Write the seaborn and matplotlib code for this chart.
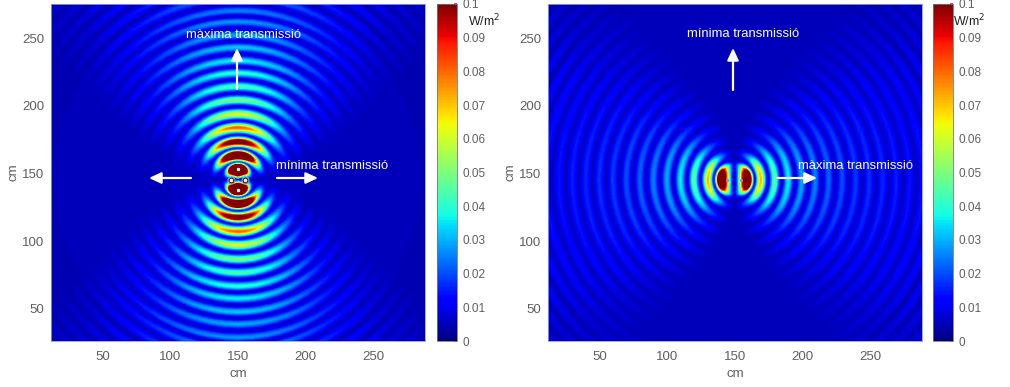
import numpy as np
import matplotlib
matplotlib.use("Agg")
import matplotlib.pyplot as plt
from matplotlib.cm import ScalarMappable
from matplotlib.colors import Normalize
import seaborn as sns

# Values: ring radii (cm from the centre), crest levels on the
# strong axis (W/m2), trough radii/levels, and brightness against angle from that axis.
left_crest_r = [8, 18, 28, 38.5, 48.5, 59, 69, 79, 88, 98, 107, 117, 125, 135, 145, 155, 165, 175, 185, 195]
left_crest_v = [.3, .19, .12, .082, .062, .05, .044, .04, .036, .032, .029, .027, .025, .023, .021, .02, .019, .018, .017, .016]
left_trough_r = [0, 13, 23, 33, 43.5, 54, 64, 74, 83.5, 93, 102.5, 112, 121, 130, 140, 150, 160, 170, 180, 190, 200]
left_trough_v = [.004, .006, .006, .006, .006, .005, .005, .005, .005, .005, .005, .005, .005, .005, .004, .004, .004, .004, .004, .004, .004]
left_gain = [1, .98, .95, .9, .84, .76, .67, .58, .49, .4, .33, .26, .2, .15, .11, .08, .05, .03, .015]

right_crest_r = [10.5, 19.5, 30, 40, 50, 60, 70, 80, 90, 100, 110, 120, 130, 140, 150, 160, 170, 180, 190]
right_crest_v = [.15, .072, .046, .036, .029, .025, .022, .02, .018, .017, .016, .015, .014, .014, .013, .013, .012, .012, .011]
right_trough_r = [0, 15, 25, 35, 45, 55, 65, 75, 85, 95, 105, 115, 125, 135, 145, 155, 165, 175, 185, 200]
right_trough_v = [.002, .005, .005, .005, .005, .005, .005, .005, .005, .005, .005, .005, .005, .005, .005, .004, .004, .004, .004, .004]
right_gain = [1, .99, .97, .95, .92, .88, .82, .75, .67, .58, .5, .42, .35, .28, .22, .17, .12, .08, .05]

# Ring cross-section: share of the crest-to-trough rise left at each fraction of the way to the trough
profile_fraction = [.25, .5, .75]
profile_level = [.8, .45, .15]

angle_step_deg = 5
centre_left = (150, 145.5)
centre_right = (149.5, 145.5)
x_ticks = [50, 100, 150, 200, 250]
y_ticks = [50, 100, 150, 200, 250]
cbar_ticks = [0, .01, .02, .03, .04, .05, .06, .07, .08, .09, .1]
cbar_labels = ["0", "0.01", "0.02", "0.03", "0.04", "0.05", "0.06", "0.07", "0.08", "0.09", "0.1"]
label_max = "màxima transmissió"
label_min = "mínima transmissió"

sns.set_theme(style="white")
plt.rcParams["font.family"] = ["Liberation Sans", "DejaVu Sans"]
jet = matplotlib.colormaps["jet"]
GREY = "#5f5f5f"
W, H = 1010, 387


def px_axes(fig, x0, y0, x1, y1):
    return fig.add_axes([x0 / W, 1 - y1 / H, (x1 - x0) / W, (y1 - y0) / H])


def field(ax, crest_r, crest_v, trough_r, trough_v, gain, centre, vertical):
    g = np.array(gain, float)
    ring = np.concatenate([g, g[-2::-1], g[1:], g[-2::-1]])
    theta = np.deg2rad(np.arange(ring.size) * angle_step_deg)
    radii, rows = [trough_r[0]], [np.full(ring.size, trough_v[0])]
    for i, (rc, vc) in enumerate(zip(crest_r, crest_v)):
        inner, outer = trough_r[i], trough_r[i + 1]
        v_in, v_out = trough_v[i], trough_v[i + 1]
        peak = vc * ring
        for f, lev in zip(profile_fraction[::-1], profile_level[::-1]):
            radii.append(rc - f * (rc - inner))
            rows.append(np.maximum(v_in + (peak - v_in) * lev, v_in))
        radii.append(rc)
        rows.append(np.maximum(peak, v_in))
        for f, lev in zip(profile_fraction, profile_level):
            radii.append(rc + f * (outer - rc))
            rows.append(np.maximum(v_out + (peak - v_out) * lev, v_out))
        radii.append(outer)
        rows.append(np.full(ring.size, v_out))
    T, R = np.meshgrid(theta, np.array(radii))
    Z = np.vstack(rows)
    if vertical:
        X, Y = centre[0] + R * np.sin(T), centre[1] + R * np.cos(T)
    else:
        X, Y = centre[0] + R * np.cos(T), centre[1] + R * np.sin(T)
    ax.contourf(X, Y, Z, levels=np.linspace(0, .1, 129), cmap=jet, extend="max")


def style(ax, cax, unit_x):
    ax.set_xlim(11.5, 288.5)
    ax.set_ylim(26, 275.5)
    ax.set_xticks(x_ticks)
    ax.set_yticks(y_ticks)
    ax.tick_params(colors=GREY, labelsize=9.5, length=2, direction="in", pad=7, left=True, bottom=True)
    ax.tick_params(axis="y", pad=5)
    ax.set_xlabel("cm", color=GREY, fontsize=9.5, labelpad=4)
    ax.set_ylabel("cm", color=GREY, fontsize=9.5, labelpad=2)
    for s in ax.spines.values():
        s.set_color("#8f9fc8")
        s.set_linewidth(.6)
    cb = plt.colorbar(ScalarMappable(Normalize(0, .1), jet), cax=cax, ticks=cbar_ticks)
    cb.ax.set_yticklabels(cbar_labels)
    cb.ax.tick_params(colors=GREY, labelsize=8.5, length=2, direction="in", pad=4, right=True)
    cb.outline.set_edgecolor("#777777")
    cb.outline.set_linewidth(.6)
    ax.figure.text(unit_x / W, 1 - 21 / H, "W/m$^2$", fontsize=9, color="#222222", va="center")


def arrow(ax, tail, tip):
    ax.annotate("", xy=tip, xytext=tail, xycoords="figure pixels", textcoords="figure pixels",
                arrowprops=dict(arrowstyle="-|>,head_width=0.28,head_length=0.6", color="white", lw=1.6,
                                shrinkA=0, shrinkB=0))


def fpx(x, y):
    return (x, H - y)


fig = plt.figure(figsize=(W / 100, H / 100), dpi=100, facecolor="white")
ax1 = px_axes(fig, 51, 4, 425, 341)
cax1 = px_axes(fig, 437, 4, 457, 341)
ax2 = px_axes(fig, 548, 4, 922, 341)
cax2 = px_axes(fig, 933, 4, 953, 341)

field(ax1, left_crest_r, left_crest_v, left_trough_r, left_trough_v, left_gain, centre_left, True)
field(ax2, right_crest_r, right_crest_v, right_trough_r, right_trough_v, right_gain, centre_right, False)
style(ax1, cax1, 468)
style(ax2, cax2, 953)

# Source spots and the over-range cores of the two central lobes
ax1.scatter([144.8, 155.2], [145.5, 145.5], s=34, c="#30d0e0", lw=0)
ax1.scatter([144.8, 155.2], [145.5, 145.5], s=18, c="#a00000", lw=0)
ax1.scatter([144.8, 155.2, 150, 150], [145.5, 145.5, 153.5, 137.5], s=6, c="white", lw=0)
ax2.scatter([144.3, 154.7], [145.5, 145.5], s=5, c="#9090d0", lw=0)

arrow(ax1, fpx(237, 89), fpx(237, 48))
arrow(ax1, fpx(191, 178), fpx(149, 178))
arrow(ax1, fpx(277, 178), fpx(318, 178))
arrow(ax2, fpx(733, 90), fpx(733, 48))
arrow(ax2, fpx(777, 178), fpx(817, 178))

for x, y, s in [(243, 35, label_max), (332, 166, label_min), (743, 34, label_min), (855, 166, label_max)]:
    fig.text(x / W, 1 - y / H, s, color="white", fontsize=9.4, ha="center", va="center")

fig.savefig("out.png", dpi=100)
